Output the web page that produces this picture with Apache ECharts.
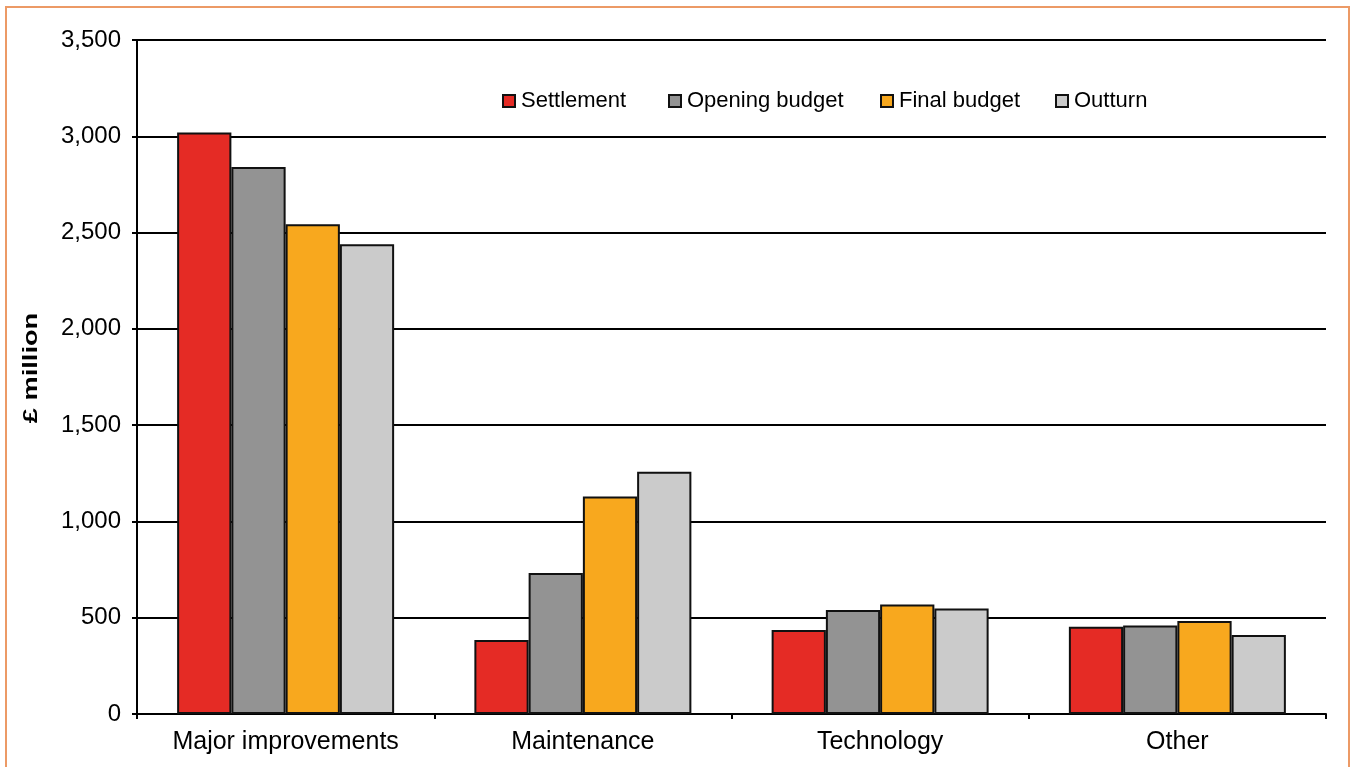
<!DOCTYPE html>
<html><head><meta charset="utf-8">
<script src="https://cdn.jsdelivr.net/npm/echarts@6/dist/echarts.min.js"></script>
<style>
html,body{margin:0;padding:0;background:#fff;width:1352px;height:767px;overflow:hidden;}
#frame{position:absolute;left:5px;top:6px;width:1345px;height:790px;border:2px solid #ec9a66;box-sizing:border-box;}
#c{position:absolute;left:0;top:0;width:1352px;height:767px;}
</style></head>
<body>
<div id="frame"></div>
<div id="c"></div>
<script>
const categories = ['Major improvements','Maintenance','Technology','Other'];
const settlement = [3020, 384, 436, 453];
const openingBudget = [2840, 732, 540, 459];
const finalBudget = [2543, 1130, 568, 483];
const outturn = [2440, 1258, 548, 410];
const seriesNames = ['Settlement','Opening budget','Final budget','Outturn'];
const yTitle = '£ million';
const colors = ['#e52b25','#939393','#f8a81e','#cbcbcb'];

const chart = echarts.init(document.getElementById('c'));
const font = 'Liberation Sans, Arial, sans-serif';
const data = [settlement, openingBudget, finalBudget, outturn];
const legendLefts = [502, 668, 880, 1055];
chart.setOption({
  animation:false,
  textStyle:{fontFamily:font},
  grid:{left:137,right:26,top:40,bottom:53},
  legend: seriesNames.map((n,i)=>({
    left:legendLefts[i], top:90, padding:0, itemWidth:12, itemHeight:12, itemGap:0,
    icon:'rect',
    textStyle:{fontSize:22,color:'#000',fontFamily:font,padding:[0,0,0,1]},
    data:[n]
  })),
  graphic:[{
    type:'text',
    x:31, y:368, rotation:Math.PI/2, scaleX:1.36, scaleY:1.05,
    style:{text:yTitle, font:'bold 20px "Liberation Sans", Arial, sans-serif', fill:'#000',
      textAlign:'center', textVerticalAlign:'middle'}
  }],
  xAxis:{
    type:'category', data:categories,
    axisLine:{lineStyle:{color:'#000',width:2}},
    axisTick:{show:true,length:5,lineStyle:{color:'#000',width:2}},
    axisLabel:{fontSize:25,color:'#000',margin:16,fontFamily:font}
  },
  yAxis:{
    type:'value', min:0, max:3500, interval:500,
    axisLine:{show:true,lineStyle:{color:'#000',width:2}},
    axisTick:{show:true,length:5,lineStyle:{color:'#000',width:2}},
    splitLine:{lineStyle:{color:'#000',width:2}},
    axisLabel:{fontSize:24,color:'#000',margin:16,fontFamily:font,
      formatter:v=>v.toLocaleString('en-GB')}
  },
  series: seriesNames.map((n,i)=>({
    name:n, type:'bar', data:data[i],
    barGap:'0%', barCategoryGap:'27%',
    itemStyle:{color:colors[i],borderColor:'#111',borderWidth:2}
  }))
});
</script>
</body></html>
